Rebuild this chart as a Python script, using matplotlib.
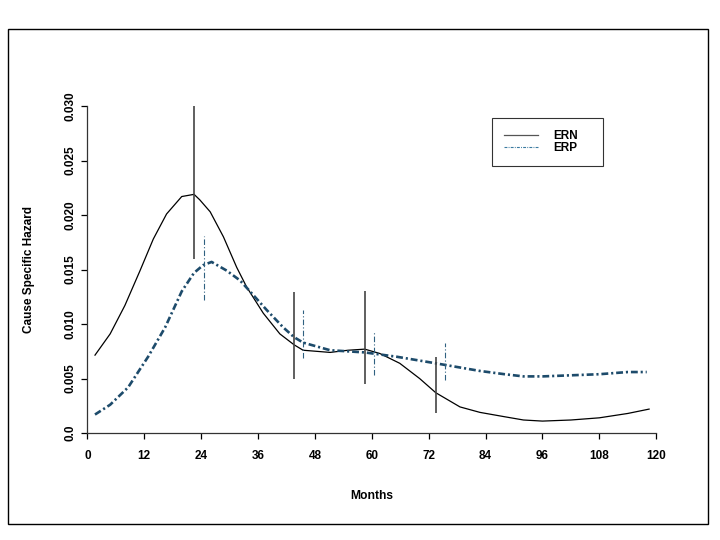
import matplotlib
matplotlib.use('Agg')
import matplotlib.pyplot as plt
from matplotlib.patches import Rectangle

plt.rcParams['font.family'] = ['Liberation Sans', 'DejaVu Sans']
plt.rcParams['font.weight'] = 'bold'

# hazard curves
ern_months = [1.6, 4.8, 7.9, 11.1, 13.9, 16.7, 19.9, 22.5, 23.7, 25.9, 28.7, 31.5,
              33.6, 37.1, 40.6, 43.6, 45.5, 51.2, 55.0, 58.5, 61.7, 65.9, 70.1,
              73.5, 78.6, 82.8, 88, 92, 96, 102, 108, 114, 118.5]
ern_hazard = [0.00715, 0.0091, 0.0117, 0.0149, 0.0178, 0.0201, 0.0217, 0.0219,
              0.0214, 0.0203, 0.0180, 0.0152, 0.0134, 0.0110, 0.0091, 0.0081,
              0.0076, 0.0074, 0.0076, 0.0077, 0.0073, 0.0064, 0.0050, 0.0037,
              0.0024, 0.0019, 0.0015, 0.0012, 0.0011, 0.0012, 0.0014, 0.0018, 0.0022]

erp_months = [1.6, 4.8, 8.6, 12.8, 16.4, 19.9, 22.5, 24.4, 26.2, 29.4, 32.2, 34.3,
              37.8, 41.3, 43.6, 45.5, 51.2, 58.5, 65.3, 73.5, 82.8, 88, 92, 96,
              102, 108, 114, 118]
erp_hazard = [0.0017, 0.0026, 0.0042, 0.0070, 0.0097, 0.0130, 0.0147, 0.0154,
              0.0157, 0.0149, 0.0140, 0.0130, 0.0113, 0.0097, 0.0088, 0.0083,
              0.0076, 0.0074, 0.0070, 0.0064, 0.0057, 0.0054, 0.0052, 0.0052,
              0.0053, 0.0054, 0.0056, 0.0056]

# confidence bars
ern_bar_months = [22.5, 43.5, 58.5, 73.5]
ern_bar_low = [0.0160, 0.0050, 0.0045, 0.0018]
ern_bar_high = [0.0300, 0.0129, 0.0130, 0.0070]

erp_bar_months = [24.5, 45.5, 60.5, 75.5]
erp_bar_low = [0.0122, 0.0069, 0.0053, 0.0049]
erp_bar_high = [0.0181, 0.0113, 0.0094, 0.0083]

xticks = [0, 12, 24, 36, 48, 60, 72, 84, 96, 108, 120]
yticks = [0.0, 0.005, 0.010, 0.015, 0.020, 0.025, 0.030]
ytick_labels = ['0.0', '0.005', '0.010', '0.015', '0.020', '0.025', '0.030']

blue = '#1d4b6b'

fig = plt.figure(figsize=(7.2, 5.4), dpi=100)
ax = fig.add_axes([0.1214, 0.198, 0.790, 0.6056])

ax.plot(ern_months, ern_hazard, color='black', lw=0.9, label='ERN')
ax.plot(erp_months, erp_hazard, color=blue, lw=1.9,
        linestyle=(0, (2.6, 1.1, 0.8, 1.1)), label='ERP')

ax.vlines(ern_bar_months, ern_bar_low, ern_bar_high, color='#444444', lw=1.2)
ax.vlines(erp_bar_months, erp_bar_low, erp_bar_high, color='#2f6080', lw=0.8,
          linestyles=[(0, (5, 2, 1, 2))])

ax.set_xlim(0, 120)
ax.set_ylim(0, 0.030)
ax.set_xticks(xticks)
ax.set_yticks(yticks)
ax.set_yticklabels(ytick_labels, rotation=90, va='center')

for side in ['top', 'right']:
    ax.spines[side].set_visible(False)
for side in ['left', 'bottom']:
    ax.spines[side].set_color('#333333')
    ax.spines[side].set_linewidth(0.9)
ax.tick_params(axis='x', direction='out', length=4, width=0.9, pad=8.5, labelsize=8.5)
ax.tick_params(axis='y', direction='out', length=4.5, width=0.9, pad=3.5, labelsize=8.5)
ax.patch.set_visible(False)

ax.set_xlabel('Months', fontsize=8.7, fontweight='bold')
ax.set_ylabel('Cause Specific Hazard', fontsize=8.5, fontweight='bold')
ax.xaxis.set_label_coords(0.5, -0.174)
ax.yaxis.set_label_coords(-0.092, 0.5)

leg = ax.legend(loc='upper left', bbox_to_anchor=(0.711, 0.829, 0.195, 0.134),
                mode='expand', fancybox=False, edgecolor='black', fontsize=8.5,
                handlelength=2.9, handletextpad=1.3, labelspacing=0.0,
                borderpad=1.0, borderaxespad=0)
leg.get_frame().set_linewidth(0.8)
leg.get_lines()[0].set_color('#555555')
leg.get_lines()[1].set_linewidth(0.8)
leg.get_lines()[1].set_color('#3a7aa0')

fig.patches.append(Rectangle((8 / 720, 16 / 540), 700 / 720, 495 / 540,
                             transform=fig.transFigure, fill=False,
                             edgecolor='black', lw=1))

fig.savefig('out.png', dpi=100)
